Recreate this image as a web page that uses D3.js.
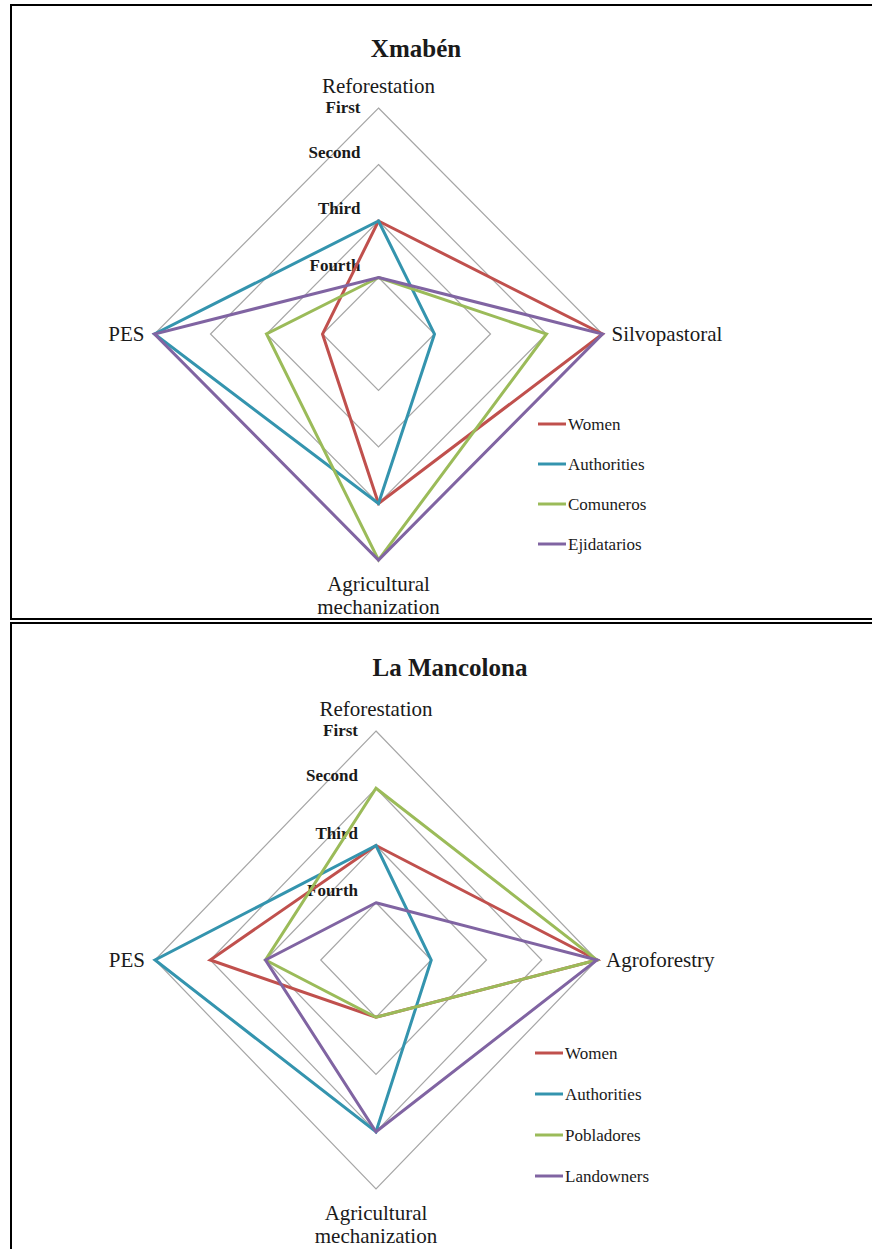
<!DOCTYPE html>
<html>
<head>
<meta charset="utf-8">
<script src="https://cdn.jsdelivr.net/npm/d3@7"></script>
<style>
  body { margin: 0; background: #fff; }
  svg text { font-family: "Liberation Serif", "DejaVu Serif", serif; fill: #1a1a1a; }
</style>
</head>
<body>
<div class="canvas"></div>
<script>
// rank labels, value 1 = Fourth ... 4 = First
const rankValues = [1, 2, 3, 4];
const rankLabels = ["Fourth", "Third", "Second", "First"];

const seriesColors = ["#C0504D", "#3494AE", "#9BBB59", "#8064A2"];

// Xmabén
const xmabenAxes = ["Reforestation", "Silvopastoral", "Agricultural mechanization", "PES"];
const xmabenSeries = ["Women", "Authorities", "Comuneros", "Ejidatarios"];
const xmabenWomen = [2, 4, 3, 1];
const xmabenAuthorities = [2, 1, 3, 4];
const xmabenComuneros = [1, 3, 4, 2];
const xmabenEjidatarios = [1, 4, 4, 4];

// La Mancolona
const mancolonaAxes = ["Reforestation", "Agroforestry", "Agricultural mechanization", "PES"];
const mancolonaSeries = ["Women", "Authorities", "Pobladores", "Landowners"];
const mancolonaWomen = [2, 4, 1, 3];
const mancolonaAuthorities = [2, 1, 3, 4];
const mancolonaPobladores = [3, 4, 1, 2];
const mancolonaLandowners = [1, 4, 3, 2];

const serif = "'Liberation Serif', 'DejaVu Serif', serif";

const svg = d3
  .select(".canvas")
  .append("svg")
  .attr("width", 872)
  .attr("height", 1249)
  .attr("font-family", serif);

// frames
svg.append("rect")
  .attr("x", 11).attr("y", 5).attr("width", 900).attr("height", 614)
  .attr("fill", "none").attr("stroke", "#000").attr("stroke-width", 2);
svg.append("rect")
  .attr("x", 11).attr("y", 623).attr("width", 900).attr("height", 700)
  .attr("fill", "none").attr("stroke", "#000").attr("stroke-width", 2);

function radar(opts) {
  const { title, titleX, titleY, cx, cy, rx, ry, axes, names, values, legendX, legendY, legendStep } = opts;
  const g = svg.append("g").attr("font-family", serif);

  const sx = d3.scaleLinear().domain([0, 4]).range([0, rx]);
  const sy = d3.scaleLinear().domain([0, 4]).range([0, ry]);
  const angle = (i) => (i / axes.length) * 2 * Math.PI;
  const px = (v, i) => cx + sx(v) * Math.sin(angle(i));
  const py = (v, i) => cy - sy(v) * Math.cos(angle(i));

  const line = d3.line()
    .x((d) => px(d.v, d.i))
    .y((d) => py(d.v, d.i))
    .curve(d3.curveLinearClosed);

  g.append("text")
    .attr("x", titleX).attr("y", titleY)
    .attr("text-anchor", "middle")
    .attr("font-size", 25).attr("font-weight", "bold")
    .text(title);

  // grid rings
  g.selectAll(".ring")
    .data(rankValues)
    .enter()
    .append("path")
    .attr("d", (v) => line(axes.map((a, i) => ({ v, i }))))
    .attr("fill", "none")
    .attr("stroke", "#a6a6a6")
    .attr("stroke-width", 1.2);

  // rank labels
  g.selectAll(".rank")
    .data(rankValues)
    .enter()
    .append("text")
    .attr("x", cx - 18)
    .attr("y", (v) => cy - sy(v) + (v === 4 ? 5 : -7))
    .attr("text-anchor", "end")
    .attr("font-size", 17)
    .attr("font-weight", "bold")
    .text((v, i) => rankLabels[i]);

  // axis labels
  g.append("text").attr("x", cx).attr("y", cy - ry - 15)
    .attr("text-anchor", "middle").attr("font-size", 21).text(axes[0]);
  g.append("text").attr("x", cx + rx + 9).attr("y", cy + 7)
    .attr("text-anchor", "start").attr("font-size", 21).text(axes[1]);
  const bottom = g.append("text").attr("x", cx).attr("y", cy + ry + 31)
    .attr("text-anchor", "middle").attr("font-size", 21);
  axes[2].split(" ").forEach((w, k) => {
    bottom.append("tspan").attr("x", cx).attr("dy", k === 0 ? 0 : 23).text(w);
  });
  g.append("text").attr("x", cx - rx - 10).attr("y", cy + 7)
    .attr("text-anchor", "end").attr("font-size", 21).text(axes[3]);

  // series
  values.forEach((vals, s) => {
    g.append("path")
      .attr("d", line(vals.map((v, i) => ({ v, i }))))
      .attr("fill", "none")
      .attr("stroke", seriesColors[s])
      .attr("stroke-width", 3)
      .attr("stroke-linejoin", "miter");
  });

  // legend
  const legend = g.append("g").attr("transform", `translate(${legendX}, ${legendY})`);
  names.forEach((n, s) => {
    const row = legend.append("g").attr("transform", `translate(0, ${s * legendStep})`);
    row.append("line").attr("x1", 0).attr("x2", 28)
      .attr("stroke", seriesColors[s]).attr("stroke-width", 3);
    row.append("text").attr("x", 30).attr("y", 6).attr("font-size", 17)
      .attr("fill", "#262626").text(n);
  });
}

radar({
  title: "Xmabén", titleX: 416, titleY: 57,
  cx: 378.5, cy: 334, rx: 224, ry: 226,
  axes: xmabenAxes, names: xmabenSeries,
  values: [xmabenWomen, xmabenAuthorities, xmabenComuneros, xmabenEjidatarios],
  legendX: 538, legendY: 424, legendStep: 40
});

radar({
  title: "La Mancolona", titleX: 450, titleY: 676,
  cx: 376, cy: 960, rx: 221, ry: 229,
  axes: mancolonaAxes, names: mancolonaSeries,
  values: [mancolonaWomen, mancolonaAuthorities, mancolonaPobladores, mancolonaLandowners],
  legendX: 535, legendY: 1053, legendStep: 41
});
</script>
</body>
</html>
